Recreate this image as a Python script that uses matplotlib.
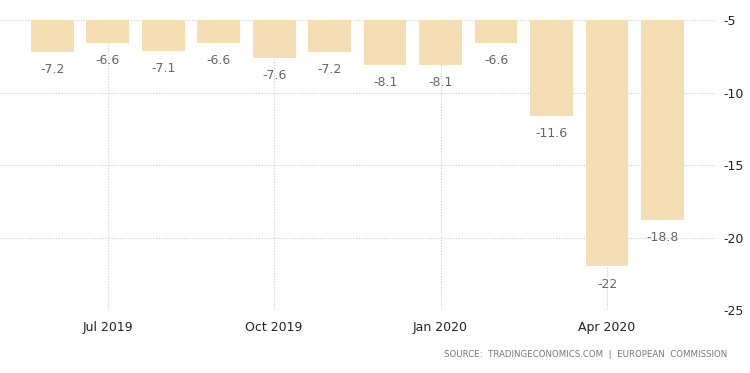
import matplotlib
matplotlib.use('Agg')
import matplotlib.pyplot as plt
import numpy as np

# ── Data ──────────────────────────────────────────────────────────────────────

months = ['Jun 2019', 'Jul 2019', 'Aug 2019', 'Sep 2019', 'Oct 2019', 'Nov 2019',
          'Dec 2019', 'Jan 2020', 'Feb 2020', 'Mar 2020', 'Apr 2020', 'May 2020']
values = [-7.2, -6.6, -7.1, -6.6, -7.6, -7.2, -8.1, -8.1, -6.6, -11.6, -22, -18.8]
labels = ['-7.2', '-6.6', '-7.1', '-6.6', '-7.6', '-7.2', '-8.1', '-8.1', '-6.6',
          '-11.6', '-22', '-18.8']
tick_months = ['Jul 2019', 'Oct 2019', 'Jan 2020', 'Apr 2020']
y_ticks = [-5, -10, -15, -20, -25]

BASE = -5
BAR_COLOR = '#f5deb3'

# ── Plot ──────────────────────────────────────────────────────────────────────

fig = plt.figure(figsize=(7.5, 3.73), dpi=100)
ax = fig.add_axes([0.0, 0.169, 0.953, 0.777])

x = np.arange(len(months))
heights = [v - BASE for v in values]
bars = ax.bar(x, heights, bottom=BASE, width=0.77, color=BAR_COLOR, zorder=2)

for xi, v, lab in zip(x, values, labels):
    ax.annotate(lab, (xi, v), xytext=(0, -8), textcoords='offset points',
                ha='center', va='top', fontsize=9, color='#666666')

ax.set_ylim(-25, -5)
ax.set_xlim(-0.94, len(months) - 0.06)

tick_pos = [months.index(m) for m in tick_months]
ax.set_xticks(tick_pos)
ax.set_xticklabels(tick_months, fontsize=9, color='#222222')
ax.set_yticks(y_ticks)
ax.set_yticklabels([str(t) for t in y_ticks], fontsize=9, color='#222222')
ax.yaxis.tick_right()
ax.tick_params(axis='both', length=0)
ax.tick_params(axis='x', pad=8)
ax.tick_params(axis='y', pad=6)

ax.grid(True, axis='both', linestyle=(0, (1, 1.5)), color='#cccccc', linewidth=0.8, zorder=0)
for s in ax.spines.values():
    s.set_visible(False)

fig.text(0.97, 0.05, 'SOURCE:  TRADINGECONOMICS.COM  |  EUROPEAN  COMMISSION',
         ha='right', va='center', fontsize=6.2, color='#777777')

plt.savefig('out.png', dpi=100)
